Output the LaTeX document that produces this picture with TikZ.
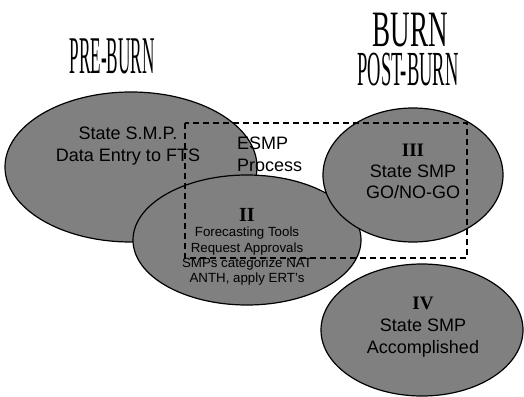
\documentclass[tikz,border=0pt]{standalone}
\usepackage{fontspec}
\setmainfont{Liberation Serif}
\setsansfont{Liberation Sans}
\usepackage{graphicx}
\usetikzlibrary{shapes.geometric}
\definecolor{phasegray}{RGB}{128,128,128}

\begin{document}
\begin{tikzpicture}[x=1pt, y=-1pt,
    phase/.style={shape=ellipse, draw=black, fill=phasegray, line width=1.2pt, inner sep=0pt},
    heading/.style={anchor=base, inner sep=0pt, text depth=0pt, font=\fontsize{53}{53}\selectfont},
    body/.style={align=center, inner sep=0pt, font=\sffamily\fontsize{18}{21.5}\selectfont}]
          \useasboundingbox (0,0) rectangle (524,396);

          % ellipses
          \node[phase, minimum width=252, minimum height=150] at (131,167) (pre) {};
          \node[phase, minimum width=228, minimum height=130] at (247,240) (two) {};
          \node[phase, minimum width=180, minimum height=134] at (413,175) (three) {};
          \node[phase, minimum width=202, minimum height=132] at (422,330) (four) {};

          % dashed box
          \draw[dashed, dash pattern=on 6pt off 4pt, line width=1.4pt]
          (185,123) rectangle (467,258);

          % headings
          \node[heading] at (112,73) (preburn) {\scalebox{0.324}[1]{PRE-BURN}};
          \node[heading, text height=34pt, font=\fontsize{51}{51}\selectfont] at (410,46.5) (burn) {\scalebox{0.53}[1]{BURN}};
          \node[heading, text height=32pt, font=\fontsize{49}{49}\selectfont] at (408,85) (postburn) {\scalebox{0.378}[1]{POST-BURN}};

          % texts
          \node[body, font=\sffamily\fontsize{18}{22}\selectfont] at (128,146.5)
          (pretext) {State S.M.P.\\Data Entry to FTS};
          \node[body, align=left, anchor=west, font=\sffamily\fontsize{18}{22}\selectfont] at (237,154.5)
          (esmp) {ESMP\\Process};
          \node[body, font=\sffamily\fontsize{13.3}{15.2}\selectfont] at (247,247)
          (twotext) {{\rmfamily\bfseries\fontsize{20}{16}\selectfont II}\\Forecasting Tools\\Request Approvals\\SMPs categorize NAT\\ANTH, apply ERT's};
          \node[body, font=\sffamily\fontsize{18}{21}\selectfont] at (413,171.5)
          (threetext) {{\rmfamily\bfseries\fontsize{19}{21}\selectfont III}\\State SMP\\GO/NO-GO};
          \node[body, font=\sffamily\fontsize{18}{22}\selectfont] at (423,327.5)
          (fourtext) {{\rmfamily\bfseries\fontsize{19}{22}\selectfont IV}\\State SMP\\Accomplished};
        \end{tikzpicture}
\end{document}
